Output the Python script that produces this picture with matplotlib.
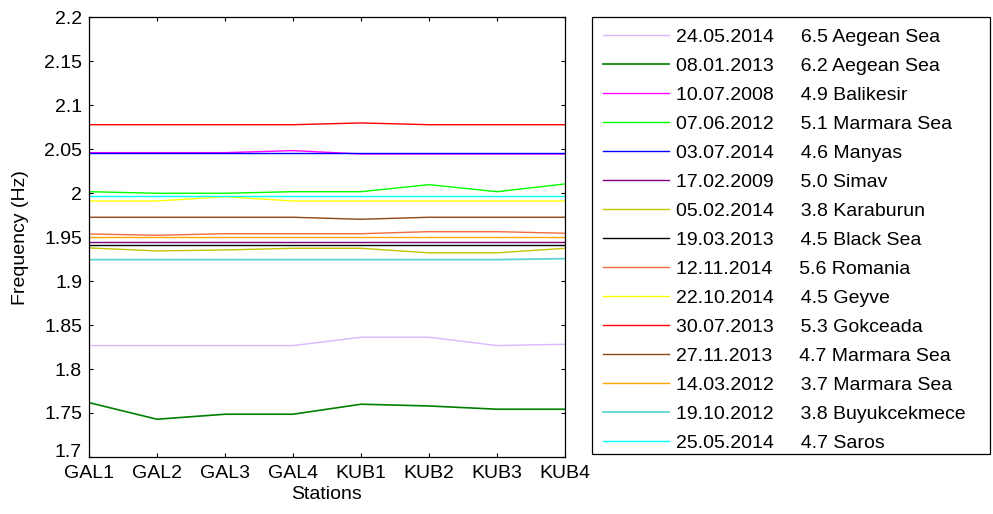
import matplotlib
matplotlib.use("Agg")
import matplotlib.pyplot as plt
import matplotlib.transforms as mtransforms
from matplotlib.patches import Rectangle

plt.rcParams['font.family'] = ['Liberation Sans', 'DejaVu Sans']

stations = ["GAL1", "GAL2", "GAL3", "GAL4", "KUB1", "KUB2", "KUB3", "KUB4"]

dates = ["24.05.2014", "08.01.2013", "10.07.2008", "07.06.2012", "03.07.2014",
         "17.02.2009", "05.02.2014", "19.03.2013", "12.11.2014", "22.10.2014",
         "30.07.2013", "27.11.2013", "14.03.2012", "19.10.2012", "25.05.2014"]
events = ["6.5 Aegean Sea", "6.2 Aegean Sea", "4.9 Balikesir", "5.1 Marmara Sea",
          "4.6 Manyas", "5.0 Simav", "3.8 Karaburun", "4.5 Black Sea",
          "5.6 Romania", "4.5 Geyve", "5.3 Gokceada", "4.7 Marmara Sea",
          "3.7 Marmara Sea", "3.8 Buyukcekmece", "4.7 Saros"]

# frequency (Hz) of each event at each station
f_aegean_65 = [1.8267, 1.8267, 1.8267, 1.8267, 1.8362, 1.8362, 1.8267, 1.8282]
f_aegean_62 = [1.7618, 1.7429, 1.7486, 1.7486, 1.7600, 1.7580, 1.7543, 1.7543]
f_balikesir = [2.0462, 2.0462, 2.0462, 2.0485, 2.0447, 2.0447, 2.0447, 2.0447]
f_marmara_51 = [2.0018, 2.0000, 2.0000, 2.0018, 2.0018, 2.0098, 2.0018, 2.0106]
f_manyas = [2.0462, 2.0462, 2.0462, 2.0462, 2.0462, 2.0462, 2.0462, 2.0462]
f_simav = [1.9450, 1.9450, 1.9450, 1.9450, 1.9450, 1.9450, 1.9450, 1.9450]
f_karaburun = [1.9378, 1.9344, 1.9355, 1.9374, 1.9374, 1.9322, 1.9322, 1.9374]
f_blacksea = [1.9412, 1.9412, 1.9412, 1.9412, 1.9412, 1.9412, 1.9412, 1.9412]
f_romania = [1.9537, 1.9522, 1.9540, 1.9540, 1.9540, 1.9563, 1.9563, 1.9545]
f_geyve = [1.9912, 1.9912, 1.9961, 1.9912, 1.9912, 1.9912, 1.9912, 1.9912]
f_gokceada = [2.0780, 2.0780, 2.0780, 2.0780, 2.0800, 2.0780, 2.0780, 2.0780]
f_marmara_47 = [1.9727, 1.9727, 1.9727, 1.9727, 1.9704, 1.9727, 1.9727, 1.9727]
f_marmara_37 = [1.9500, 1.9500, 1.9500, 1.9500, 1.9500, 1.9500, 1.9500, 1.9500]
f_buyukcekmece = [1.9245, 1.9245, 1.9245, 1.9245, 1.9245, 1.9245, 1.9245, 1.9256]
f_saros = [1.9969, 1.9969, 1.9969, 1.9969, 1.9969, 1.9969, 1.9969, 1.9969]

series = [f_aegean_65, f_aegean_62, f_balikesir, f_marmara_51, f_manyas,
          f_simav, f_karaburun, f_blacksea, f_romania, f_geyve, f_gokceada,
          f_marmara_47, f_marmara_37, f_buyukcekmece, f_saros]

colors = ["#D8B8FF", "#008000", "#FF00FF", "#00FF00", "#0000FF",
          "#800080", "#C4C400", "#000000", "#F26B3A", "#FFFF00",
          "#FF0000", "#8B4513", "#FFA500", "#5FD3D3", "#00FFFF"]
widths = [1.0, 1.2, 1.0, 1.0, 1.0, 1.0, 1.0, 1.0, 1.0, 1.0, 1.0, 1.0, 1.0, 1.3, 1.0]

yticks = [1.7, 1.75, 1.8, 1.85, 1.9, 1.95, 2.0, 2.05, 2.1, 2.15, 2.2]
ytick_labels = ["1.7", "1.75", "1.8", "1.85", "1.9", "1.95", "2", "2.05", "2.1", "2.15", "2.2"]

FS = 14

fig = plt.figure(figsize=(9.93, 5.14), dpi=100)
ax = fig.add_axes([0.0896, 0.111, 0.4794, 0.855])

x = list(range(len(stations)))
for vals, c, lw, d, e in zip(series, colors, widths, dates, events):
    ax.plot(x, vals, color=c, lw=lw, label=f"{d}     {e}")

ax.set_xlim(0, len(stations) - 1)
ax.set_ylim(1.7, 2.2)
ax.set_xticks(x)
ax.set_xticklabels(stations)
ax.set_yticks(yticks)
ax.set_yticklabels(ytick_labels)
ax.tick_params(direction='in', length=3, width=0.8, top=True, right=True,
               labelsize=FS)
ax.tick_params(axis='x', pad=6)
ax.tick_params(axis='y', pad=5)
for s in ax.spines.values():
    s.set_linewidth(0.9)
ax.set_xlabel("Stations", fontsize=FS, labelpad=3)
ax.set_ylabel("Frequency (Hz)", fontsize=FS, labelpad=11)

# lift the lowest y tick label clear of the station labels
lowest = ax.get_yticklabels()[0]
lowest.set_transform(lowest.get_transform() +
                     mtransforms.ScaledTranslation(0, 5 / 72, fig.dpi_scale_trans))

# legend box drawn as its own rectangle
fig.patches.append(Rectangle((592 / 993, 1 - 454 / 514), 398 / 993, 437 / 514,
                             transform=fig.transFigure, facecolor='white',
                             edgecolor='black', linewidth=0.9, zorder=0))
leg = fig.legend(loc='upper left', bbox_to_anchor=(0.596, 0.967, 0.401, 0.0),
                 mode='expand', fontsize=FS, frameon=False,
                 handlelength=3.35, handletextpad=0.36, labelspacing=0.585,
                 borderpad=0.6, borderaxespad=0.0)

fig.savefig("out.png", dpi=100)
